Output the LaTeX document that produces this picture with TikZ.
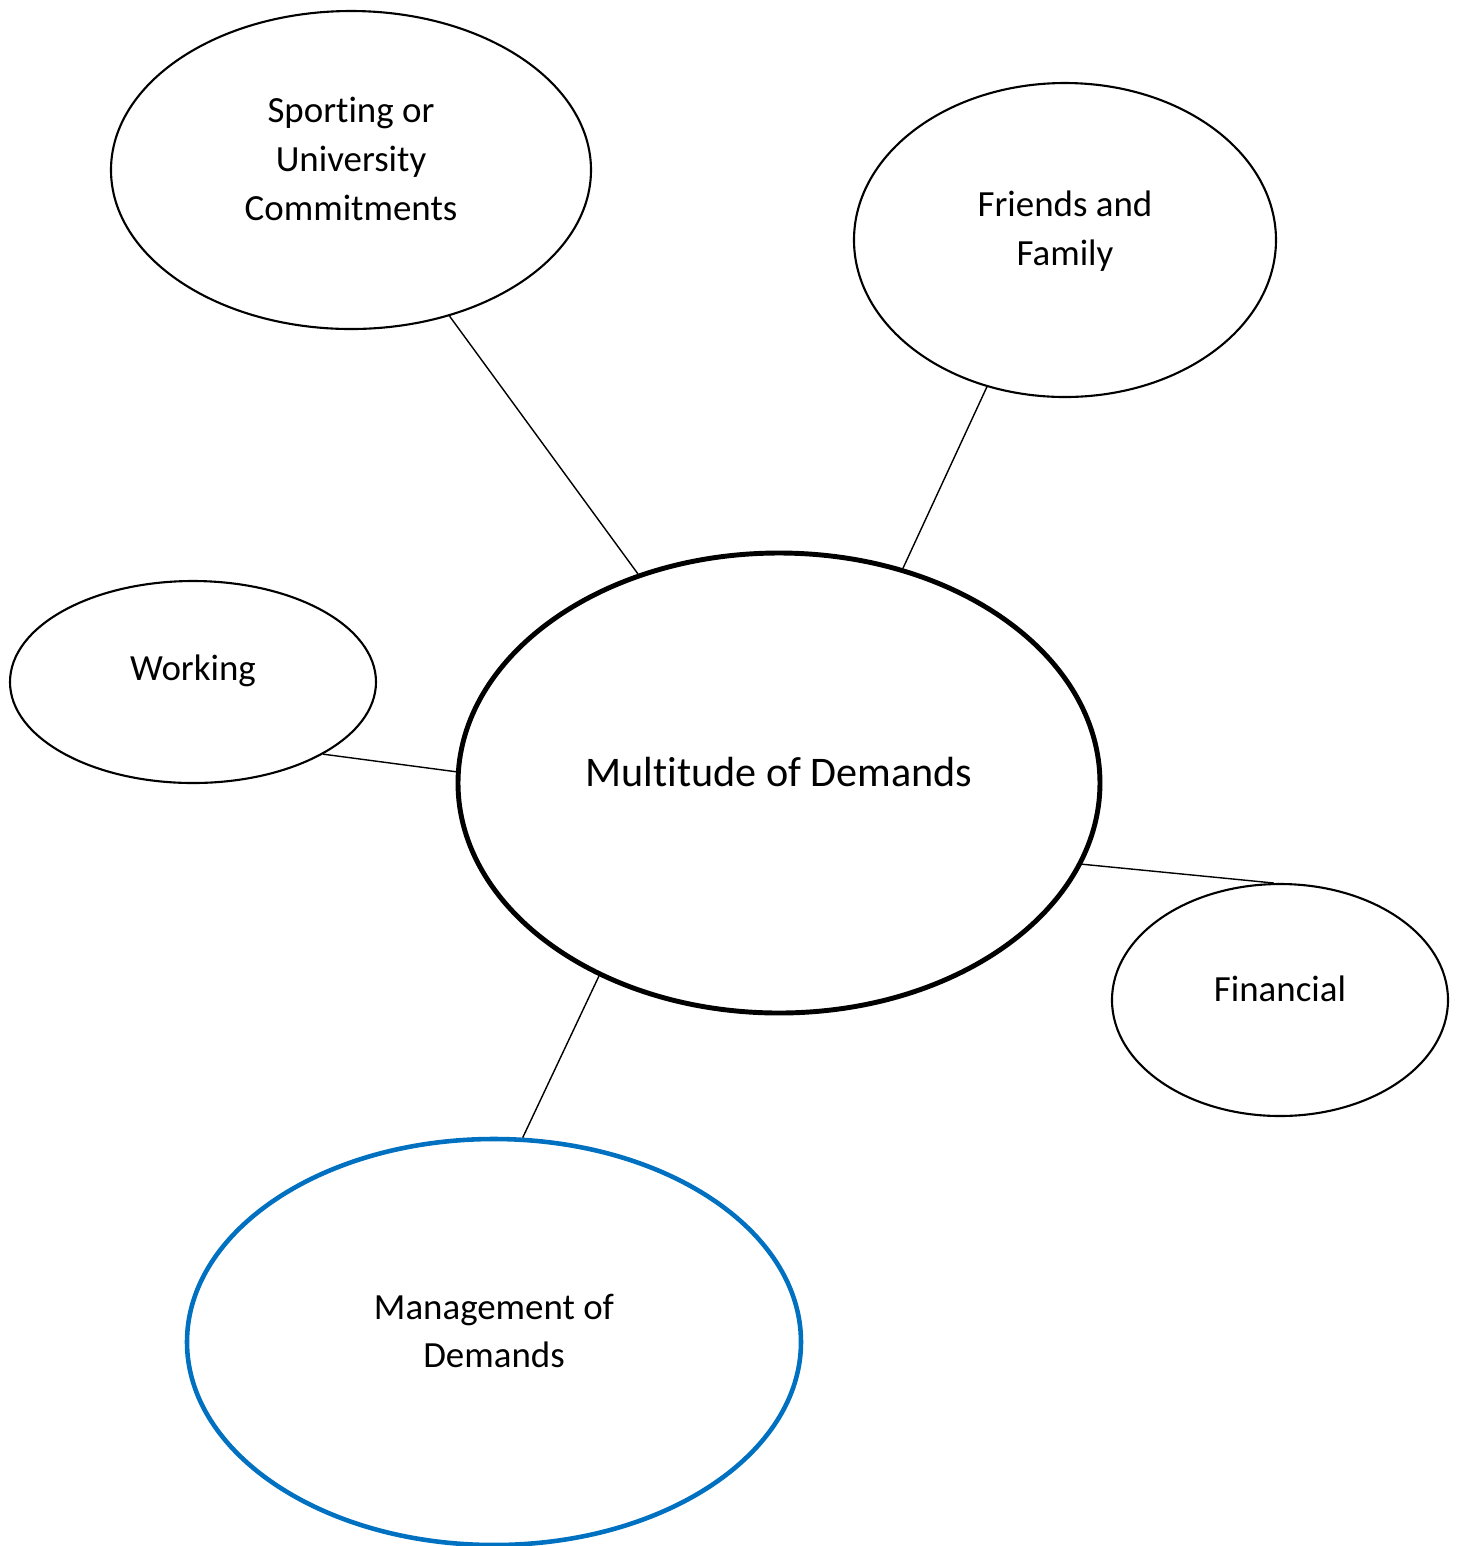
\documentclass[tikz,border=0pt]{standalone}
\usepackage{fontspec}
\setmainfont[Ligatures=NoCommon,RawFeature={-clig;-calt}]{Carlito}
\usetikzlibrary{shapes.geometric}

\definecolor{wordblue}{RGB}{0,112,192}

\begin{document}
\begin{tikzpicture}[-,thin,
                    bubble/.style={ellipse,draw,line width=0.6pt,inner sep=0pt},
                    bubble text/.style={align=center,font=\fontsize{10.5}{13.9}\selectfont}]
  \useasboundingbox (0,0) rectangle (14.59,-15.46);

  \node[bubble,line width=1.4pt,minimum width=6.42cm,minimum height=4.60cm] (main) at (7.79,-7.83) {};
  \node[bubble,minimum width=4.80cm,minimum height=3.18cm] (sport) at (3.51,-1.70) {};
  \node[bubble,minimum width=4.22cm,minimum height=3.14cm] (friends) at (10.65,-2.40) {};
  \node[bubble,minimum width=3.66cm,minimum height=2.02cm] (work) at (1.93,-6.82) {};
  \node[bubble,minimum width=3.36cm,minimum height=2.32cm] (money) at (12.80,-10.00) {};
  \node[bubble,draw=wordblue,line width=1.3pt,minimum width=6.14cm,minimum height=4.06cm] (manage) at (4.94,-13.42) {};

  \node[bubble text,font=\fontsize{12}{15}\selectfont] (main text) at (7.79,-7.72) {Multitude of Demands};
  \node[bubble text] (sport text) at (3.51,-1.59) {Sporting or\\University\\Commitments};
  \node[bubble text] (friends text) at (10.65,-2.31) {Friends and\\Family};
  \node[bubble text] (work text) at (1.93,-6.71) {Working};
  \node[bubble text] (money text) at (12.80,-9.89) {Financial};
  \node[bubble text] (manage text) at (4.94,-13.31) {Management of\\Demands};

  \path[line width=0.4pt]
    (sport.-56.4) edge (main.124.7)
    (friends.-118.4) edge (main.60)
    (work.-29.7) edge (main.178)
    (main.-15.9) edge (money.93.5)
    (main.-133.2) edge (manage.82.4);
\end{tikzpicture}
\end{document}
